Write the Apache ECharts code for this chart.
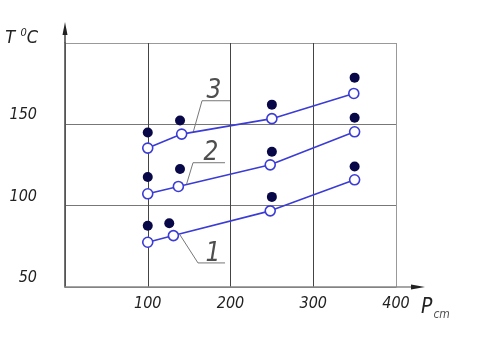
<!DOCTYPE html>
<html><head><meta charset="utf-8">
<script src="https://cdn.jsdelivr.net/npm/echarts@6/dist/echarts.min.js"></script>
<style>html,body{margin:0;padding:0;background:#fff}#c{width:477px;height:345px}</style>
</head><body><div id="c"></div>
<script>
// Data (P_cm on x, T °C on y)
var xTicks = [0, 100, 200, 300, 400];
var yTicks = [50, 100, 150, 200];
var s1Open = [[100, 77.5], [131, 81.6], [248, 96.8], [350, 115.9]];
var s1Fill = [[100, 87.6], [126, 89.2], [250, 105.4], [350, 124.1]];
var s2Open = [[100, 107.3], [137, 111.8], [248, 125.1], [350, 145.4]];
var s2Fill = [[100, 117.6], [139, 122.5], [250, 133.1], [350, 154.1]];
var s3Open = [[100, 135.4], [141, 144.0], [250, 153.5], [349, 169.0]];
var s3Fill = [[100, 145.0], [139, 152.4], [250, 162.1], [350, 178.7]];
// leader lines for curve numbers
var lead1 = [[139, 82], [160.7, 64.8], [193.4, 64.8]];
var lead2 = [[147, 113.4], [154.7, 126.4], [193.4, 126.4]];
var lead3 = [[155, 145.3], [165.6, 164.5], [199.4, 164.5]];
var leadLabels = [{name: '1', value: [178.9, 64.8]}, {name: '2', value: [176.4, 126.4]}, {name: '3', value: [180, 164.5]}];

var FONT = '"DejaVu Sans Condensed","DejaVu Sans",sans-serif';
var BLUE = '#3b3bd6', NAVY = '#080848';

function openSeries(d) {
  return {type: 'line', data: d, symbol: 'circle', symbolSize: 10, z: 3,
    lineStyle: {color: BLUE, width: 1.6},
    itemStyle: {color: '#fff', borderColor: BLUE, borderWidth: 1.6}, silent: true};
}
function fillSeries(d) {
  return {type: 'scatter', data: d, symbol: 'circle', symbolSize: 10, z: 4,
    itemStyle: {color: NAVY, opacity: 1}, silent: true};
}
function leadSeries(d) {
  return {type: 'line', data: d, symbol: 'none', z: 2,
    lineStyle: {color: '#777', width: 1}, silent: true};
}

var chart = echarts.init(document.getElementById('c'));
chart.setOption({
  animation: false,
  backgroundColor: '#fff',
  grid: {left: 65, right: 81, top: 43, bottom: 58},
  xAxis: {
    type: 'value', min: xTicks[0], max: xTicks[xTicks.length - 1], interval: 100,
    axisLine: {show: true, lineStyle: {color: '#888', width: 1.5}},
    axisTick: {show: false},
    splitLine: {show: true, lineStyle: {color: ['#888', '#444', '#444', '#444', '#999'], width: 1}},
    axisLabel: {margin: 9, color: '#222', fontFamily: FONT, fontStyle: 'italic', fontSize: 16,
      formatter: function (v) { return v === 0 ? '' : String(v); }},
    name: '{p|P}{s|cm}', nameLocation: 'end', nameGap: 25,
    nameTextStyle: {verticalAlign: 'top', padding: [8, 0, 0, 0],
      rich: {p: {fontFamily: FONT, fontStyle: 'italic', fontSize: 21, color: '#222'},
             s: {fontFamily: FONT, fontStyle: 'italic', fontSize: 12, color: '#555', padding: [14, 0, 0, 1]}}}
  },
  yAxis: {
    type: 'value', min: yTicks[0], max: yTicks[yTicks.length - 1], interval: 50,
    axisLine: {show: true, lineStyle: {color: '#444', width: 1.5}},
    axisTick: {show: false},
    splitLine: {show: true, lineStyle: {color: ['#777', '#777', '#777', '#999'], width: 1.2}},
    axisLabel: {margin: 28, color: '#222', fontFamily: FONT, fontStyle: 'italic', fontSize: 16,
      verticalAlign: 'bottom', padding: [0, 0, 1, 0],
      formatter: function (v) { return v === 200 ? '' : String(v); }},
    name: '{t|T }{o|0}{t|C}', nameLocation: 'end', nameGap: 5,
    nameTextStyle: {align: 'right', verticalAlign: 'middle', padding: [0, 27, 0, 0],
      rich: {t: {fontFamily: FONT, fontStyle: 'italic', fontSize: 18, color: '#222'},
             o: {fontFamily: FONT, fontStyle: 'italic', fontSize: 11, color: '#222', padding: [0, 0, 9, 0]}}}
  },
  series: [
    leadSeries(lead1), leadSeries(lead2), leadSeries(lead3),
    openSeries(s1Open), openSeries(s2Open), openSeries(s3Open),
    fillSeries(s1Fill), fillSeries(s2Fill), fillSeries(s3Fill),
    {type: 'scatter', data: leadLabels, symbolSize: 0, silent: true, z: 5,
      label: {show: true, position: 'top', distance: -4, formatter: '{b}', color: '#222',
        fontFamily: FONT, fontStyle: 'italic', fontSize: 26}}
  ]
});

// axis arrows (decoration) placed from axis coordinates
var xr = chart.convertToPixel({gridIndex: 0}, [400, 50]);
var yt = chart.convertToPixel({gridIndex: 0}, [0, 200]);
chart.setOption({graphic: [
  {type: 'line', shape: {x1: xr[0], y1: xr[1], x2: xr[0] + 18, y2: xr[1]}, style: {stroke: '#888', lineWidth: 1.5}},
  {type: 'polygon', shape: {points: [[xr[0] + 15, xr[1] - 2.5], [xr[0] + 29, xr[1]], [xr[0] + 15, xr[1] + 2.5]]}, style: {fill: '#222'}},
  {type: 'line', shape: {x1: yt[0], y1: yt[1], x2: yt[0], y2: yt[1] - 10}, style: {stroke: '#444', lineWidth: 1.5}},
  {type: 'polygon', shape: {points: [[yt[0] - 2.5, yt[1] - 8], [yt[0], yt[1] - 21], [yt[0] + 2.5, yt[1] - 8]]}, style: {fill: '#222'}}
]});
</script></body></html>
